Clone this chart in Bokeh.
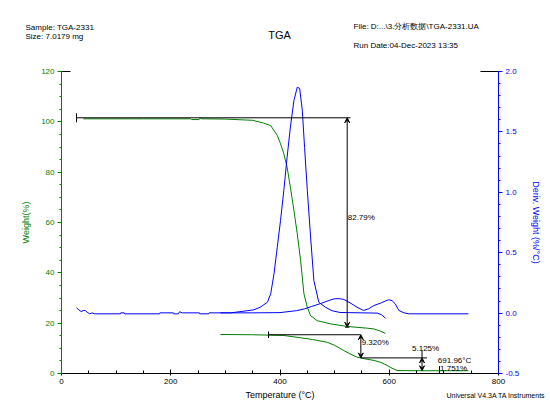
from bokeh.plotting import figure
from bokeh.models import Range1d, LinearAxis, FixedTicker, Label, Arrow, VeeHead, CustomJSTickFormatter
from bokeh.embed import file_html
from bokeh.resources import INLINE

GREEN = "#008000"
BLUE = "#0000FF"
FONT = "Liberation Sans"

# ---- TGA run 1 (weight %)
t1 = [40, 100, 150, 200, 236, 238, 252, 254, 257, 300, 350, 370, 383, 395, 401, 407, 413, 419, 425.5,
      431.6, 437.7, 440.8, 443.8, 450, 456, 468, 493, 523, 560, 572, 583, 593]
w1 = [101.2, 101.2, 101.2, 101.2, 101.2, 100.9, 100.9, 101.5, 101.2, 101.1, 100.6, 99.5, 98.5, 94.6, 91.3,
      87.3, 82.0, 74.0, 64.8, 55.5, 44.9, 38.3, 31.7, 26.3, 23.0, 21.0, 19.7, 18.7, 18.0, 17.7, 16.9, 15.9]

# ---- TGA run 2 (weight %)
t2 = [291, 350, 407, 438, 460, 486.6, 500, 517, 530, 541, 556, 572, 585, 596, 605, 614, 640, 700, 745]
w2 = [15.5, 15.4, 15.1, 14.2, 13.5, 12.4, 11.2, 9.1, 7.6, 6.5, 5.8, 5.2, 4.4, 3.2, 2.1, 1.2, 1.1, 1.1, 1.1]

# ---- derivative run 1 (%/°C)
d1t = [27.5, 31.7, 36, 40.8, 44, 47, 51.8, 56, 60.4, 108, 108.5, 115, 115.5, 179.4, 180, 205, 205.5, 214,
       216, 221.5, 252.6, 253, 269, 270, 310, 334, 352, 364, 377, 383, 389, 395, 401, 407, 413, 419, 425.5,
       431.6, 436, 440.8, 445, 450, 456, 462, 471, 483, 495, 510, 550, 578, 586, 593]
d1 = [0.044, 0.027, 0.013, 0.022, 0.020, 0.007, -0.006, 0.002, -0.006, -0.006, 0.002, 0.002, -0.006, -0.006,
      0.002, 0.002, -0.006, -0.006, 0.011, 0.002, 0.002, -0.006, -0.006, 0.002, 0.002, 0.016, 0.027, 0.049,
      0.09, 0.16, 0.325, 0.545, 0.767, 1.015, 1.29, 1.54, 1.76, 1.87, 1.86, 1.68, 1.37, 1.015, 0.63, 0.27,
      0.09, 0.049, 0.02, 0.005, 0.002, 0.0, -0.014, -0.042]

# ---- derivative run 2 (%/°C)
d2t = [291, 350, 400, 430, 445, 458, 475, 490, 499, 508, 517, 530, 541, 553, 562, 572, 584, 593, 599, 605,
       611, 617.5, 627, 636, 745]
d2 = [0.002, 0.002, 0.004, 0.02, 0.035, 0.055, 0.08, 0.105, 0.118, 0.12, 0.113, 0.08, 0.049, 0.022, 0.035,
      0.063, 0.082, 0.1, 0.11, 0.104, 0.077, 0.022, 0.002, -0.006, -0.006]

# ---- analysis annotations
step1_t, step1_top, step1_bot = 523, 101.6, 18.4
step1_line = [27.5, 529]
step2_t, step2_top, step2_bot = 548, 15.4, 6.2
step2_line = [379, 548]
step3_t, step3_top, step3_bot = 660, 6.2, 1.1
step3_line = [548, 669]
resid_t, resid_w = 691.96, 1.751
step_labels = ["82.79%", "9.320%", "5.125%"]

# ---- page geometry (px): plot area of the axes inside a 550 x 413 canvas
W, H = 550, 413
AX_L, AX_R, AX_T, AX_B = 61, 498, 71, 373
X0, X1 = 0, 800
Y0, Y1 = 0, 120
D0, D1 = -0.5, 2.0
kx = (AX_R - AX_L) / (X1 - X0)
ky = (AX_B - AX_T) / (Y1 - Y0)
kd = (AX_B - AX_T) / (D1 - D0)

p = figure(width=W, height=H,
           x_range=Range1d(X0 - AX_L / kx, X1 + (W - AX_R) / kx),
           y_range=Range1d(Y0 - (H - AX_B) / ky, Y1 + AX_T / ky),
           output_backend="svg", toolbar_location=None,
           min_border_left=0, min_border_right=0, min_border_top=0, min_border_bottom=0)
p.outline_line_color = None
p.xgrid.visible = False
p.ygrid.visible = False
p.background_fill_color = "white"
p.border_fill_color = "white"
p.extra_y_ranges = {"deriv": Range1d(D0 - (H - AX_B) / kd, D1 + AX_T / kd)}

xa = p.xaxis[0]
xa.fixed_location = Y0
xa.bounds = (X0, X1)
xa.ticker = FixedTicker(ticks=[0, 200, 400, 600, 800], minor_ticks=list(range(0, 801, 50)))
xa.axis_label = "Temperature (°C)"
xa.major_tick_in = 4
xa.major_tick_out = 2
xa.minor_tick_in = 3
xa.minor_tick_out = 0
xa.axis_line_color = "black"
xa.major_tick_line_color = "black"
xa.minor_tick_line_color = "black"
xa.major_label_text_color = "black"
xa.axis_label_text_color = "black"

ya = p.yaxis[0]
ya.fixed_location = X0
ya.bounds = (Y0, Y1)
ya.ticker = FixedTicker(ticks=list(range(0, 121, 20)), minor_ticks=list(range(0, 121, 5)))
ya.axis_label = "Weight(%)"
ya.axis_line_color = GREEN
ya.major_tick_line_color = GREEN
ya.minor_tick_line_color = GREEN
ya.major_label_text_color = GREEN
ya.axis_label_text_color = GREEN
ya.major_tick_in = 0
ya.major_tick_out = 4
ya.minor_tick_in = 0
ya.minor_tick_out = 2

ra = LinearAxis(y_range_name="deriv", axis_label="Deriv. Weight (%/°C)")
ra.fixed_location = X1
ra.bounds = (D0, D1)
ra.ticker = FixedTicker(ticks=[-0.5, 0.0, 0.5, 1.0, 1.5, 2.0],
                        minor_ticks=[round(-0.5 + 0.1 * i, 1) for i in range(26)])
ra.axis_line_color = BLUE
ra.major_tick_line_color = BLUE
ra.minor_tick_line_color = BLUE
ra.major_label_text_color = BLUE
ra.axis_label_text_color = BLUE
ra.major_tick_in = 0
ra.major_tick_out = 4
ra.minor_tick_in = 0
ra.minor_tick_out = 2
ra.formatter = CustomJSTickFormatter(code="return tick.toFixed(1);")
p.add_layout(ra, "right")

for a in [xa, ya, ra]:
    a.major_label_text_font = FONT
    a.major_label_text_font_size = "8px"
    a.axis_label_text_font = FONT
    a.axis_label_text_font_size = "9px"
    a.axis_label_text_font_style = "normal"
    a.major_label_standoff = 3
xa.axis_label_standoff = 3
ya.axis_label_standoff = 7
ra.axis_label_standoff = 9

# short black frame stubs at the top corners
p.segment([X0, X1 - 33], [Y1, Y1], [X0 + 16.5, X1], [Y1, Y1], color="black", line_width=1)

# curves
p.line(t1, w1, color=GREEN, line_width=1)
p.line(t2, w2, color=GREEN, line_width=1)
p.line(d1t, d1, color=BLUE, line_width=1, y_range_name="deriv")
p.line(d2t, d2, color=BLUE, line_width=1, y_range_name="deriv")

# analysis lines
p.line(step1_line, [step1_top, step1_top], color="black", line_width=1)
p.segment([step1_line[0]], [step1_top - 1.8], [step1_line[0]], [step1_top + 1.8], color="black")
p.segment([step1_t - 4], [step1_bot], [step1_t + 4], [step1_bot], color="black")
p.line(step2_line, [step2_top, step2_top], color="black", line_width=1)
p.segment([step2_line[0]], [step2_top - 1.3], [step2_line[0]], [step2_top + 1.3], color="black")
p.line(step3_line, [step3_top, step3_top], color="black", line_width=1)
p.segment([step3_t], [step3_top], [step3_t], [step3_top + 3], color="black")
p.segment([resid_t], [0], [resid_t], [resid_w + 1.2], color="black")

for (tx, top, bot) in [(step1_t, step1_top, step1_bot), (step2_t, step2_top, step2_bot),
                       (step3_t, step3_top, step3_bot)]:
    p.add_layout(Arrow(x_start=tx, y_start=bot, x_end=tx, y_end=top, line_color="black", line_width=1,
                       start=VeeHead(size=5, line_color="black", fill_color="black"),
                       end=VeeHead(size=5, line_color="black", fill_color="black")))


def lab(x, y, text, units="data", align="left", color="black", size="8px", font=FONT):
    p.add_layout(Label(x=x, y=y, x_units=units, y_units=units, text=text, text_align=align,
                       text_baseline="middle", text_color=color, text_font_size=size, text_font=font))


lab(step1_t + 1, (step1_top + step1_bot) / 2 + 2, step_labels[0])
lab(step2_t + 1.5, step2_top - 2.9, step_labels[1])
lab(step3_t + 6.5, step3_top + 3.6, step_labels[2], align="center")
lab(resid_t - 3, resid_w + 3.4, "691.96°C")
lab(resid_t + 1, resid_w + 0.2, "1.751%")

# header / footer texts, placed in canvas pixels (x from left, y up from bottom)
lab(25, H - 26.5, "Sample: TGA-2331", units="screen")
lab(25, H - 36, "Size: 7.0179 mg", units="screen")
lab(279, H - 34, "TGA", units="screen", align="center", size="11px")
lab(353, H - 25.5, "File: D:...\\3.分析数据\\TGA-2331.UA", units="screen")
lab(353, H - 45, "Run Date:04-Dec-2023 13:35", units="screen")
lab(545, H - 395, "Universal V4.3A TA Instruments", units="screen", align="right", size="7px")

open("out.html", "w").write(file_html(p, INLINE))
